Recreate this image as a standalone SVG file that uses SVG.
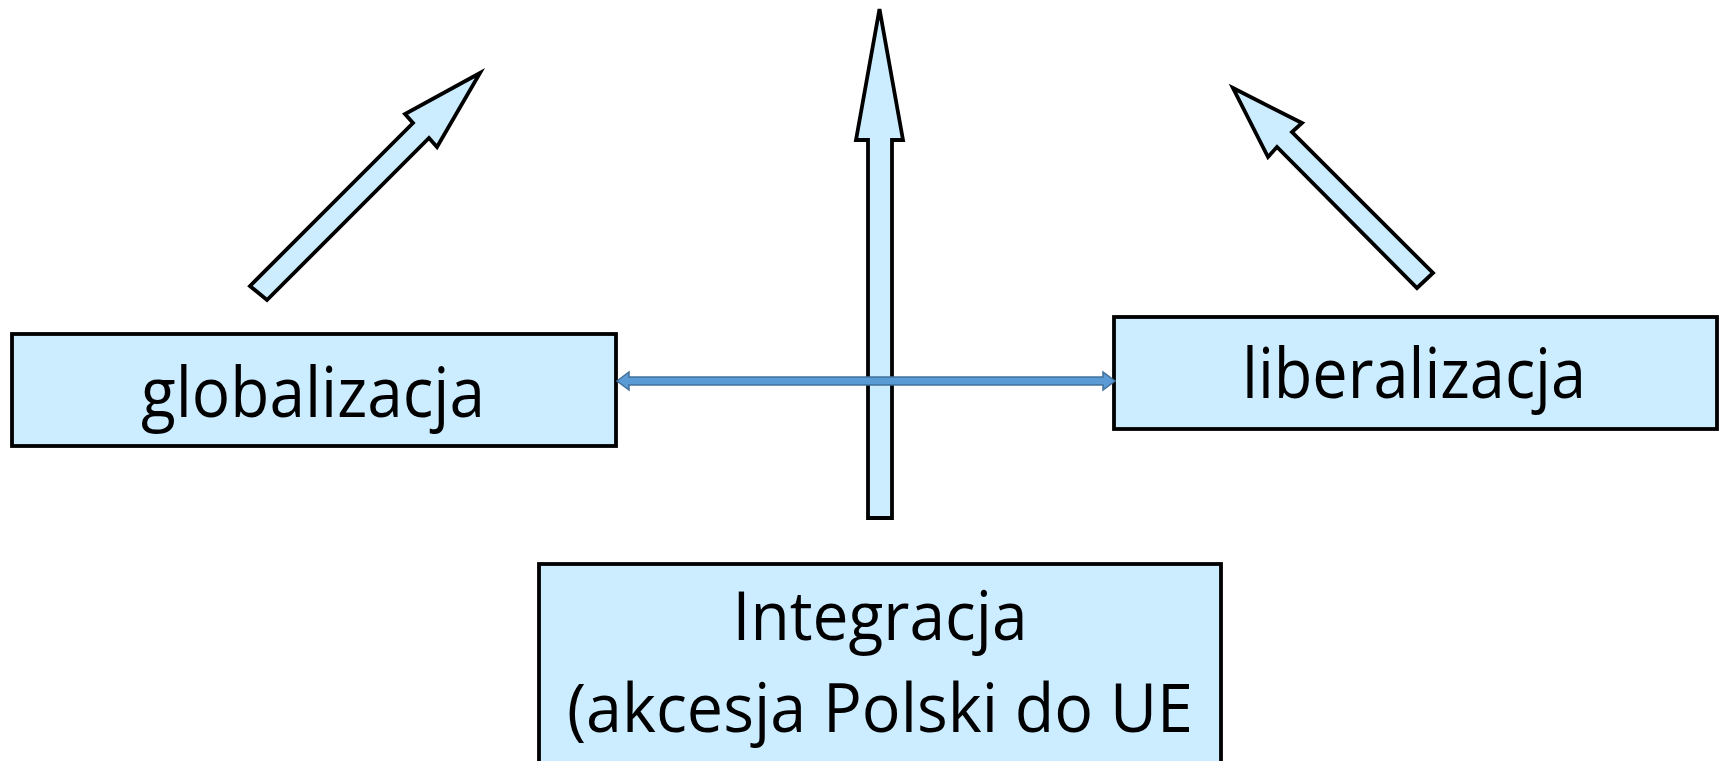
<svg xmlns="http://www.w3.org/2000/svg" width="1721" height="761" viewBox="0 0 1721 761">
<style>
.box{fill:#CCECFF;stroke:#000;stroke-width:3.8}
.blk{fill:#CCECFF;stroke:#000;stroke-width:3.8;stroke-linejoin:miter}
.lbl{font-family:"Open Sans","Liberation Sans",sans-serif;font-size:70px;fill:#000;text-anchor:middle}
.lbl2{font-family:"Open Sans","Liberation Sans",sans-serif;font-size:67px;fill:#000;text-anchor:middle}
.conn{fill:#5B9BD5;stroke:#41719C;stroke-width:1.5}
</style>
<rect width="1721" height="761" fill="#fff"/>
<g id="arrows">
<polygon id="arrow-left" class="blk" points="250,286 413,123 405,114 480,73 437,147 429,138 267,300"/>
<polygon id="arrow-up" class="blk" points="868,518 868,140 856,140 879.5,9 903,140 892,140 892,518"/>
<polygon id="arrow-right" class="blk" points="1233,88 1302,123 1292,132 1433,273 1417,288 1277,147 1268,157"/>
</g>
<g id="node-globalizacja">
<rect class="box" x="12" y="334" width="604" height="112"/>
<text class="lbl" x="313" y="417" textLength="344" lengthAdjust="spacingAndGlyphs">globalizacja</text>
</g>
<g id="node-liberalizacja">
<rect class="box" x="1114" y="317" width="603" height="112"/>
<text class="lbl" x="1414" y="398" textLength="344" lengthAdjust="spacingAndGlyphs">liberalizacja</text>
</g>
<g id="node-integracja">
<rect class="box" x="539" y="564" width="682" height="220"/>
<text class="lbl2" x="880" y="640" textLength="295" lengthAdjust="spacingAndGlyphs">Integracja</text>
<text class="lbl2" x="880" y="732" textLength="626" lengthAdjust="spacingAndGlyphs">(akcesja Polski do UE</text>
</g>
<g id="connectors">
<polygon class="conn" points="617,381 629,372 629,377 1103,377 1103,372 1115,381 1103,390 1103,385 629,385 629,390"/>
</g>
</svg>
